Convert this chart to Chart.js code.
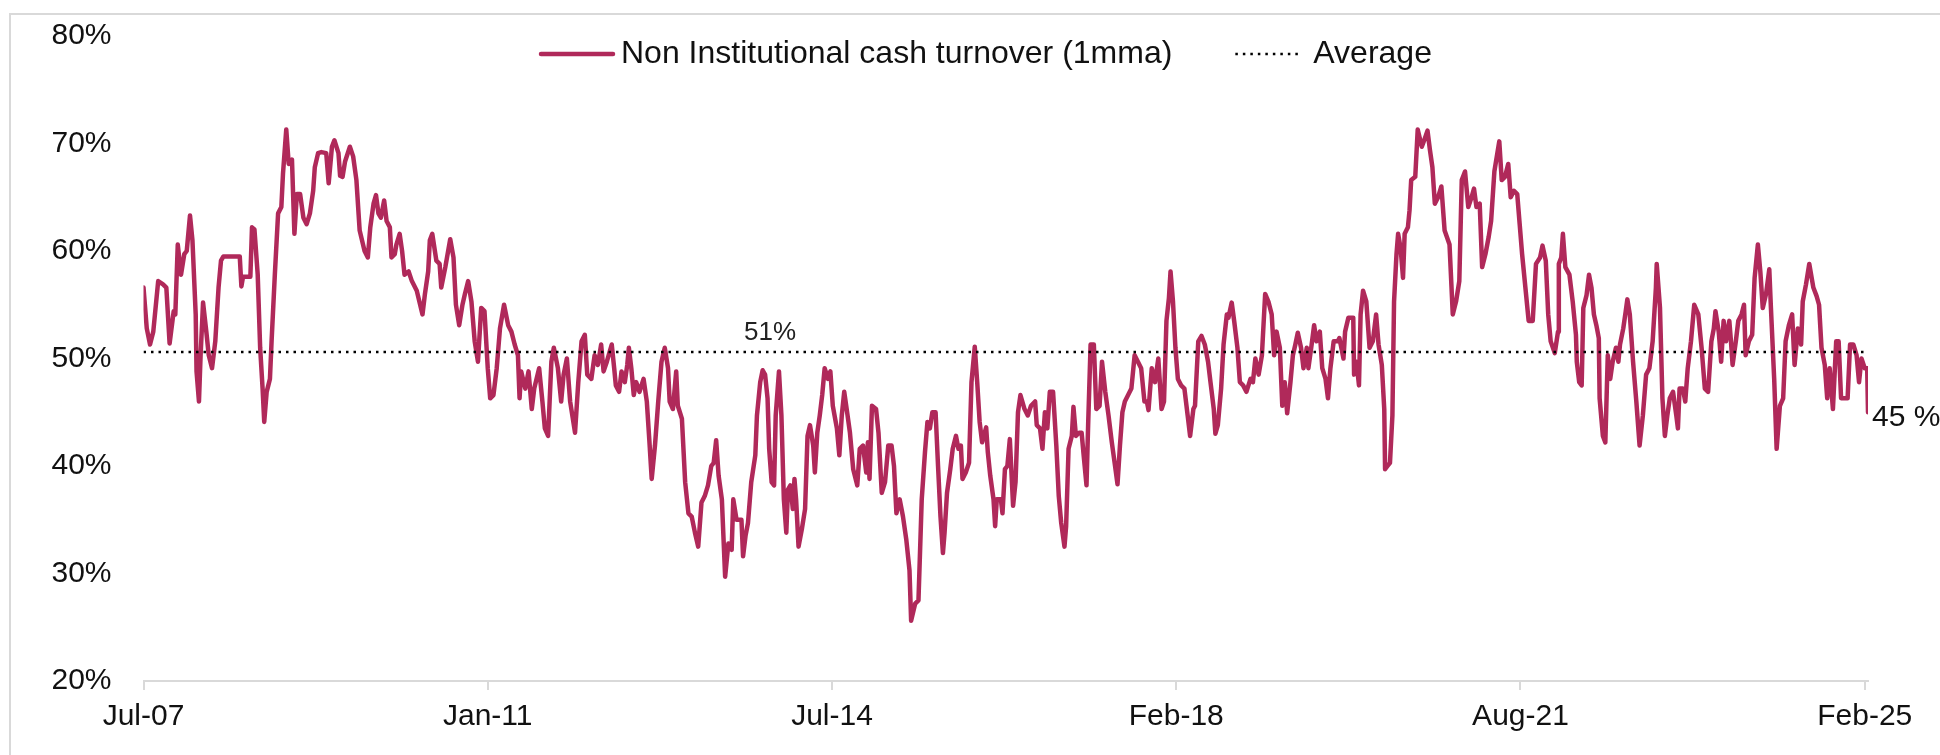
<!DOCTYPE html>
<html>
<head>
<meta charset="utf-8">
<script src="https://cdn.jsdelivr.net/npm/chart.js@4.4.1/dist/chart.umd.min.js"></script>
<style>
  html, body { margin: 0; padding: 0; background: #fff; }
  #wrap { position: relative; width: 1940px; height: 755px; overflow: hidden; }
  #frame { position: absolute; left: 9px; top: 13px; width: 2000px; height: 800px;
           border-left: 2px solid #d9d9d9; border-top: 2px solid #d9d9d9; }
  #turnover-chart { position: absolute; left: 0; top: 0; }
</style>
</head>
<body>
<div id="wrap">
  <div id="frame"></div>
  <canvas id="turnover-chart" width="1940" height="755"></canvas>
</div>
<script>
// Non institutional share of cash turnover, 1 month moving average
// x = months since Jul-07
const monthIdx = [
  0.0, 0.4, 0.8, 1.2, 1.8, 2.4, 2.8, 3.2, 3.7, 3.9,
  4.2, 4.6, 5.0, 5.3, 5.7, 6.0, 6.4, 6.5, 6.8, 7.0,
  7.3, 7.7, 8.0, 8.4, 8.8, 9.2, 9.5, 9.8, 11.8, 12.0,
  12.2, 13.1, 13.3, 13.6, 14.0, 14.3, 14.6, 14.8, 15.1, 15.5,
  15.7, 16.1, 16.5, 16.9, 17.1, 17.5, 17.8, 18.2, 18.5, 18.8,
  19.2, 19.6, 20.0, 20.4, 20.8, 21.0, 21.4, 21.8, 22.4, 22.7,
  23.1, 23.4, 23.9, 24.1, 24.4, 24.7, 25.3, 25.7, 26.1, 26.5,
  27.1, 27.5, 27.8, 28.2, 28.5, 28.8, 29.1, 29.5, 29.8, 30.2,
  30.4, 30.8, 31.0, 31.4, 31.7, 32.0, 32.5, 32.9, 33.5, 34.2,
  34.5, 34.9, 35.1, 35.4, 35.9, 36.3, 36.5, 37.0, 37.6, 38.0,
  38.3, 38.7, 39.1, 39.4, 39.8, 40.2, 40.6, 41.0, 41.4, 41.8,
  42.2, 42.5, 42.9, 43.3, 43.7, 44.2, 44.7, 45.1, 45.5, 45.9,
  46.1, 46.3, 46.8, 47.2, 47.6, 47.9, 48.5, 48.9, 49.2, 49.6,
  50.0, 50.3, 50.8, 51.2, 51.5, 51.9, 52.3, 52.9,
  53.3, 53.7, 54.1, 54.4, 54.9, 55.3, 55.7, 56.1, 56.4, 56.8,
  57.4, 57.7, 57.9, 58.3, 58.6, 59.0, 59.3, 59.5, 59.8, 60.1,
  60.4, 60.8, 61.3, 61.7, 62.0, 62.3, 62.7, 63.1, 63.5, 63.9,
  64.3, 64.5, 64.9, 65.3, 65.5, 66.0, 66.4, 66.8, 67.2, 67.6,
  68.0, 68.4, 68.8, 69.2, 69.6, 69.9, 70.2, 70.5, 70.9, 71.3,
  71.7, 72.1, 72.3, 72.7, 73.3, 73.5, 73.8, 74.1, 74.5, 75.0,
  75.2, 75.6, 75.9, 76.2, 76.5, 76.7, 77.0, 77.3, 77.5, 77.9,
  78.2, 78.5, 78.8, 79.0, 79.3, 79.6, 79.8, 80.0, 80.3, 80.7,
  81.1, 81.4, 81.7, 82.1, 82.3, 82.6, 82.9, 83.2, 83.5, 83.9,
  84.2, 84.5, 85.0, 85.3, 85.6, 85.9, 86.2, 86.6, 87.0, 87.5,
  87.8, 88.2, 88.6, 88.8, 89.0, 89.3, 89.8, 90.1, 90.5, 90.9,
  91.3, 91.7, 92.0, 92.3, 92.7, 93.1, 93.5, 93.9, 94.1, 94.6,
  95.0, 95.4, 95.8, 96.1, 96.4, 96.7, 97.1, 97.4, 97.7, 98.0,
  98.2, 98.5, 98.9, 99.2, 99.6, 99.9, 100.2, 100.4, 100.8, 101.2,
  101.5, 101.9, 102.2, 102.5, 102.8, 103.3, 103.5, 103.8, 104.2, 104.4,
  104.6, 105.1, 105.3, 105.6, 105.9, 106.2,
  106.6, 106.9, 107.2, 107.5, 108.0, 108.4, 108.8, 109.3, 109.5, 109.9,
  110.2, 110.5, 110.8, 111.1, 111.5, 111.9, 112.2, 112.5, 112.9, 113.1,
  113.4, 113.8, 114.0, 114.3, 114.7, 115.0, 115.3, 115.6, 115.8, 116.1,
  116.5, 116.8, 117.2, 117.5, 117.9, 118.3, 118.7, 119.1, 119.4, 119.7,
  120.0, 120.3, 120.7, 121.1, 121.5, 121.9, 122.3, 122.7, 123.0, 123.2,
  123.6, 124.0, 124.4, 124.8, 125.1, 125.4, 125.7, 125.9, 126.2, 126.5,
  126.8, 127.2, 127.6, 128.0, 128.3, 128.7, 128.9, 129.3, 129.7, 130.1,
  130.5, 130.8, 131.2, 131.4, 131.7, 132.1, 132.4, 132.8, 133.0, 133.4,
  133.7, 134.1, 134.4, 134.8, 135.2, 135.7, 136.0, 136.3, 136.7, 137.1,
  137.5, 137.9, 138.3, 138.6, 138.9, 139.3, 139.6, 139.9, 140.2, 140.6,
  140.9, 141.2, 141.5, 141.9, 142.2, 142.6, 142.8, 143.2, 143.5, 143.8,
  144.2, 144.5, 144.9, 145.2, 145.5, 145.9, 146.4, 146.6, 147.1, 147.3,
  147.7, 148.3, 148.4, 148.7, 149.0, 149.2, 149.5, 149.9, 150.3, 150.7,
  151.1, 151.4, 151.8, 152.1, 152.2, 152.5, 152.8, 153.1, 153.3, 153.6,
  153.8, 154.1, 154.4, 154.6, 155.0, 155.2, 155.4, 155.9, 156.2, 156.7,
  157.0, 157.4, 157.7, 158.0, 158.3, 158.7, 159.1, 159.5,
  160.1, 160.5, 160.9, 161.3, 161.6, 162.0, 162.4, 162.8, 163.1, 163.4,
  163.8, 164.1, 164.5, 164.9, 165.2, 165.6, 166.2, 166.5, 166.9, 167.3,
  167.6, 168.0, 168.4, 168.7, 169.0, 169.4, 169.8, 170.3, 170.7, 171.2,
  171.5, 171.9, 172.2, 172.5, 173.0, 173.4, 173.5, 173.8, 174.0, 174.3,
  174.8, 175.2, 175.6, 175.7, 176.0, 176.3, 176.5, 176.9, 177.2, 177.5,
  177.8, 178.1, 178.4, 178.5, 178.9, 179.2, 179.5, 179.8, 180.1, 180.5,
  180.8, 181.0, 181.4, 181.7, 181.9, 182.2, 182.6, 183.0, 183.4, 183.8,
  184.2, 184.6, 185.0, 185.4, 185.5, 185.9, 186.2, 186.5, 186.8, 187.1,
  187.5, 187.9, 188.1, 188.3, 188.7, 189.0, 189.3, 189.7, 190.1, 190.6,
  191.0, 191.4, 191.8, 192.2, 192.5, 192.7, 193.1, 193.4, 193.7, 194.0,
  194.4, 194.6, 194.8, 195.2, 195.5, 195.9, 196.2, 196.4, 196.8, 197.2,
  197.5, 197.9, 198.2, 198.5, 198.9, 199.3, 199.5, 199.9, 200.2, 200.6,
  201.0, 201.3, 201.7, 202.1, 202.4, 202.8, 203.2, 203.4, 203.8, 204.2,
  204.7, 205.1, 205.4, 205.7, 206.1, 206.4, 206.7, 207.1, 207.5, 207.8,
  208.1, 208.5, 208.9, 209.2, 209.6, 210.0, 210.3, 210.6, 211.0, 211.3,
  211.4
];

const turnover = [
  56.6, 52.8, 51.3, 52.5, 57.2, 56.9, 56.6, 51.4, 54.4, 54.1,
  60.6, 57.8, 59.7, 60.0, 63.3, 61.0, 54.1, 48.8, 46.0, 50.3,
  55.2, 52.5, 50.3, 49.1, 51.6, 56.6, 59.1, 59.5, 59.5, 56.7,
  57.6, 57.6, 62.2, 62.0, 57.8, 51.0, 47.2, 44.1, 46.9, 48.1,
  51.6, 57.8, 63.5, 64.1, 67.2, 71.3, 68.1, 68.5, 61.6, 65.3,
  65.3, 63.1, 62.5, 63.5, 65.6, 67.8, 69.1, 69.2, 69.1, 66.3,
  69.7, 70.3, 69.1, 67.0, 66.9, 68.3, 69.7, 68.8, 66.6, 61.9,
  60.0, 59.4, 62.2, 64.4, 65.2, 63.5, 63.1, 64.7, 62.8, 62.2,
  59.4, 59.7, 60.6, 61.6, 60.0, 57.8, 58.1, 57.2, 56.3, 54.1,
  56.0, 58.1, 61.0, 61.6, 59.1, 58.8, 56.6, 58.5, 61.1, 59.4,
  55.0, 53.1, 55.0, 56.0, 57.2, 55.3, 51.6, 49.7, 54.7, 54.4,
  49.1, 46.3, 46.6, 49.1, 52.8, 55.0, 53.1, 52.5, 51.3, 50.3,
  46.3, 48.8, 47.2, 48.8, 45.3, 47.2, 49.1, 46.0, 43.5, 42.8,
  49.7, 51.0, 49.1, 46.0, 48.5, 50.0, 46.0, 43.1,
  47.8, 51.6, 52.2, 48.5, 48.1, 50.3, 49.4, 51.3, 48.8, 49.7,
  51.3, 49.1, 47.5, 46.9, 48.8, 47.8, 49.4, 51.0, 49.1, 46.6,
  47.8, 46.9, 48.1, 46.0, 42.5, 38.8, 41.9, 46.0, 49.7, 51.0,
  49.1, 46.0, 45.3, 48.8, 45.6, 44.4, 38.5, 35.6, 35.3, 33.8,
  32.5, 36.6, 37.2, 38.2, 40.0, 40.3, 42.4, 39.1, 36.9, 29.7,
  32.8, 32.2, 36.9, 35.0, 35.0, 31.6, 33.5, 34.7, 38.5, 41.0,
  44.7, 47.8, 48.9, 48.5, 46.3, 41.6, 38.5, 38.2, 44.7, 48.8,
  44.7, 36.9, 33.8, 37.8, 38.2, 36.0, 38.8, 36.9, 32.5, 34.1,
  36.0, 42.8, 43.8, 41.9, 39.4, 43.1, 44.7, 46.6, 49.1, 48.1,
  48.8, 45.6, 43.5, 41.0, 44.7, 46.9, 45.3, 43.1, 39.7, 38.2,
  41.6, 41.9, 39.4, 42.2, 38.8, 45.6, 45.3, 43.1, 37.5, 38.5,
  41.9, 41.9, 40.0, 35.6, 36.9, 35.3, 33.2, 30.3, 25.6, 27.2,
  27.5, 36.9, 41.3, 44.1, 43.5, 45.0, 45.0, 40.0, 35.3, 31.9,
  33.8, 37.5, 39.7, 41.6, 42.8, 41.6, 41.9, 38.8, 39.4, 40.3,
  47.8, 51.1, 47.8, 44.1, 42.2, 43.6, 41.3, 39.1, 36.9, 34.4,
  36.9, 36.9, 35.6, 39.7, 40.0, 42.5,
  36.3, 38.5, 45.0, 46.6, 45.3, 44.7, 45.6, 46.0, 43.8, 43.5,
  41.6, 45.0, 43.5, 46.9, 46.9, 41.9, 37.2, 34.7, 32.5, 34.4,
  41.6, 42.8, 45.5, 42.8, 43.1, 43.1, 40.6, 38.2, 43.8, 51.3,
  51.3, 45.3, 45.6, 49.7, 46.9, 44.7, 42.2, 40.0, 38.3, 41.9,
  45.0, 46.0, 46.6, 47.2, 50.3, 49.7, 49.1, 46.0, 46.0, 45.2,
  49.1, 47.8, 50.0, 45.3, 46.0, 53.5, 55.6, 58.1, 55.3, 51.0,
  48.1, 47.5, 47.2, 44.7, 42.8, 45.3, 45.6, 51.6, 52.1, 51.3,
  49.7, 47.8, 45.3, 43.0, 43.8, 47.2, 51.3, 54.1, 53.8, 55.2,
  53.5, 51.0, 47.8, 47.5, 46.9, 48.1, 47.8, 50.0, 48.5, 50.3,
  56.0, 55.3, 54.1, 50.3, 52.5, 51.0, 45.6, 47.8, 44.9, 47.8,
  50.3, 51.3, 52.4, 51.0, 49.1, 51.0, 49.1, 51.3, 53.1, 51.6,
  52.5, 49.1, 48.1, 46.3, 49.1, 51.6, 51.6, 51.9, 50.0, 52.5,
  53.8, 53.8, 48.5, 49.7, 47.5, 54.1, 56.3, 55.3, 51.0, 51.6,
  54.1, 51.3, 49.4, 45.3, 39.7, 40.0, 40.3, 44.7, 55.3, 59.7,
  61.6, 60.3, 57.5, 61.6, 62.2, 63.8, 66.6, 66.9, 71.3, 69.7,
  70.3, 71.2, 69.4, 67.8, 64.4, 65.0, 66.0, 61.9,
  60.6, 54.1, 55.3, 57.2, 66.6, 67.4, 64.1, 65.0, 65.8, 64.1,
  64.4, 58.5, 59.7, 61.3, 62.8, 67.4, 70.2, 66.6, 66.9, 68.1,
  65.0, 65.6, 65.3, 62.5, 59.7, 56.6, 53.5, 53.5, 58.8, 59.4,
  60.5, 59.1, 54.1, 51.6, 50.5, 52.5, 58.8, 59.4, 61.6, 58.5,
  57.8, 55.3, 52.2, 49.7, 47.8, 47.5, 54.7, 55.9, 57.8, 56.6,
  54.1, 53.1, 51.9, 46.3, 42.8, 42.2, 50.3, 48.1, 49.7, 51.0,
  49.7, 51.3, 52.8, 54.4, 55.5, 54.1, 49.7, 46.0, 41.9, 44.7,
  48.5, 49.1, 51.6, 56.6, 58.8, 54.7, 46.3, 42.8, 44.7, 46.3,
  46.9, 44.7, 43.5, 47.2, 47.2, 46.0, 49.1, 51.6, 55.0, 54.1,
  51.0, 47.2, 46.9, 51.6, 52.8, 54.4, 52.5, 49.7, 53.5, 51.6,
  53.5, 51.6, 49.4, 51.6, 53.5, 54.1, 55.0, 50.3, 51.6, 52.2,
  57.5, 60.6, 58.1, 54.7, 56.0, 58.3, 54.7, 48.1, 41.6, 45.6,
  46.3, 51.6, 53.1, 54.1, 49.4, 52.8, 51.3, 55.3, 56.9, 58.8,
  56.6, 55.8, 55.0, 51.0, 49.4, 46.3, 49.1, 45.3, 51.6, 51.6,
  46.3, 46.3, 46.3, 51.3, 51.3, 50.3, 47.8, 50.0, 49.1, 49.1,
  45.0
];

const averageValue = 50.6;
const averageLabelMonth = 76.8;   // where the "51%" label sits
const xTickMonths = [0, 42.2, 84.4, 126.6, 168.8, 211.0];
const xTickLabels = ['Jul-07', 'Jan-11', 'Jul-14', 'Feb-18', 'Aug-21', 'Feb-25'];
const yTicks = [20, 30, 40, 50, 60, 70, 80];
const seriesNames = ['Non Institutional cash turnover (1mma)', 'Average'];

if (monthIdx.length !== turnover.length) {
    console.warn('length mismatch', monthIdx.length, turnover.length);
}

const FONT = '"Liberation Sans", Arial, sans-serif';
const LINE_COLOR = '#B0295A';
const lastMonth = monthIdx[monthIdx.length - 1];

// legend, average label and end label drawn straight onto the canvas
const annotations = {
    id: 'annotations',
    afterDraw(chart) {
        const ctx = chart.ctx;
        const xs = chart.scales.x;
        const ys = chart.scales.y;
        ctx.save();

        // legend
        const ly = 54;
        let lx = 541;
        ctx.font = '32px ' + FONT;
        ctx.fillStyle = '#111';
        ctx.textBaseline = 'middle';
        ctx.textAlign = 'left';

        ctx.strokeStyle = LINE_COLOR;
        ctx.lineWidth = 4.5;
        ctx.lineCap = 'round';
        ctx.beginPath();
        ctx.moveTo(lx, ly);
        ctx.lineTo(lx + 72, ly);
        ctx.stroke();
        lx += 80;
        ctx.fillText(seriesNames[0], lx, ly);
        lx += ctx.measureText(seriesNames[0]).width + 63;

        ctx.strokeStyle = '#000';
        ctx.lineWidth = 2.5;
        ctx.lineCap = 'butt';
        ctx.setLineDash([2.5, 5]);
        ctx.beginPath();
        ctx.moveTo(lx, ly);
        ctx.lineTo(lx + 67, ly);
        ctx.stroke();
        ctx.setLineDash([]);
        lx += 78;
        ctx.fillText(seriesNames[1], lx, ly);

        // average label
        ctx.font = '26px ' + FONT;
        ctx.fillStyle = '#222';
        ctx.textAlign = 'center';
        ctx.textBaseline = 'alphabetic';
        ctx.fillText(Math.round(averageValue) + '%',
            xs.getPixelForValue(averageLabelMonth), ys.getPixelForValue(averageValue) - 12);

        // last value label
        const lastVal = turnover[turnover.length - 1];
        ctx.font = '30px ' + FONT;
        ctx.fillStyle = '#111';
        ctx.textAlign = 'left';
        ctx.textBaseline = 'middle';
        ctx.fillText(Math.round(lastVal) + ' %',
            xs.getPixelForValue(lastMonth) + 4, ys.getPixelForValue(lastVal) + 5);

        ctx.restore();
    }
};

const ctx = document.getElementById('turnover-chart');
new Chart(ctx, {
    type: 'line',
    data: {
        datasets: [{
            label: seriesNames[0],
            data: monthIdx.map((m, i) => ({ x: m, y: turnover[i] })),
            borderColor: LINE_COLOR,
            borderWidth: 4.5,
            borderJoinStyle: 'round',
            borderCapStyle: 'round',
            pointRadius: 0,
            tension: 0,
            fill: false,
            order: 2
        }, {
            label: seriesNames[1],
            data: [{ x: 0, y: averageValue }, { x: lastMonth, y: averageValue }],
            borderColor: '#000',
            borderWidth: 2.5,
            borderDash: [2.5, 5],
            pointRadius: 0,
            fill: false,
            order: 1
        }]
    },
    options: {
        responsive: false,
        animation: false,
        devicePixelRatio: 1,
        layout: { padding: { left: 0, right: 72, top: 36, bottom: 0 } },
        plugins: {
            legend: { display: false },
            tooltip: { enabled: false }
        },
        scales: {
            x: {
                type: 'linear',
                min: 0,
                max: lastMonth,
                grid: {
                    display: true,
                    drawOnChartArea: false,
                    drawTicks: true,
                    tickLength: 9,
                    color: '#d9d9d9',
                    lineWidth: 2
                },
                border: { display: true, color: '#d9d9d9', width: 2 },
                ticks: {
                    autoSkip: false,
                    maxRotation: 0,
                    padding: 9,
                    color: '#111',
                    font: { family: FONT, size: 30 },
                    callback: (value, index) => xTickLabels[index]
                },
                afterBuildTicks: scale => {
                    scale.ticks = xTickMonths.map(v => ({ value: v }));
                },
                afterFit: scale => { scale.height = 74; }
            },
            y: {
                min: yTicks[0],
                max: yTicks[yTicks.length - 1],
                grid: { display: false, drawTicks: false },
                border: { display: false },
                ticks: {
                    stepSize: 10,
                    padding: 32,
                    color: '#111',
                    font: { family: FONT, size: 30 },
                    callback: value => value + '%'
                },
                afterBuildTicks: scale => {
                    scale.ticks = yTicks.map(v => ({ value: v }));
                },
                afterFit: scale => {
                    scale.width = 143.5;
                    // the tick padding should only push labels sideways
                    scale.paddingTop = 16;
                    scale.paddingBottom = 16;
                }
            }
        }
    },
    plugins: [annotations]
});
</script>
</body>
</html>
